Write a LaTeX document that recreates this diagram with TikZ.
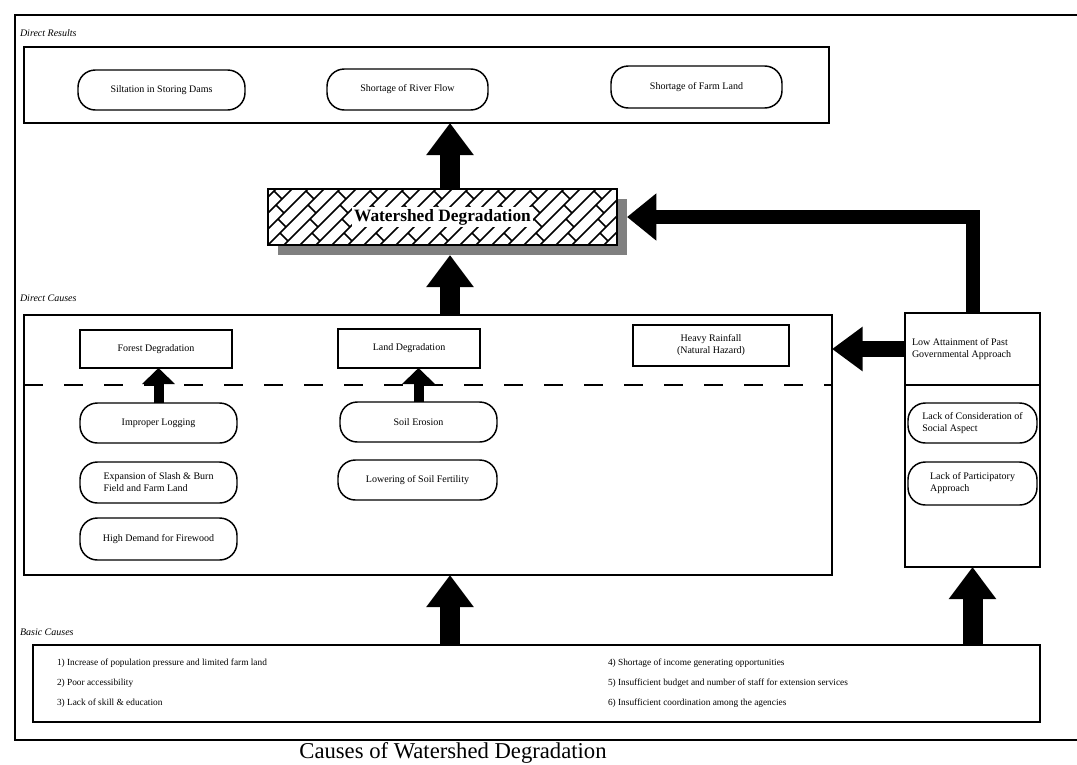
\documentclass[tikz,border=0pt]{standalone}
\usepackage{fontspec}
\setmainfont{Liberation Serif}
\usetikzlibrary{arrows.meta}

\tikzset{
  every node/.style={inner sep=0pt, outer sep=0pt},
  wh/.style 2 args={minimum width=#1*0.75pt, minimum height=#2*0.75pt},
  outerframe/.style={line width=1.5pt},
  frame/.style={draw, line width=1.1pt},
  rbox/.style={draw, line width=1.1pt, fill=white, align=center, font=\fontsize{7.5}{9}\selectfont},
  pill/.style={draw, rounded corners=13pt, line width=1.1pt, fill=white, align=left, font=\fontsize{7.5}{9}\selectfont},
  grouplabel/.style={anchor=west, font=\itshape\fontsize{7.5}{9}\selectfont},
  causeline/.style={anchor=west, font=\fontsize{7}{8.5}\selectfont},
  hatch/.style={line width=1.1pt},
  sepline/.style={line width=0.9pt, dash pattern=on 14pt off 16pt},
  bigarrow/.style={line width=15pt, -{Triangle[length=24pt,width=34pt]}},
  sidearrow/.style={line width=10.5pt, line join=miter, -{Triangle[length=22pt,width=34pt]}},
  leftarrow/.style={line width=12pt, -{Triangle[length=23pt,width=32pt]}},
  smallarrow/.style={line width=7.5pt, -{Triangle[length=12pt,width=24pt]}},
}

\begin{document}
\begin{tikzpicture}[x=0.75pt,y=-0.75pt]
\useasboundingbox (0,0) rectangle (1077,764);

% outer frame (open to the right)
\draw[outerframe] (1077,15) -- (15,15) -- (15,740) -- (1077,740);

% ---- direct results ----
\node[grouplabel] (lblres) at (20,33) {Direct Results};
\node[frame, wh={805}{76}] (res) at (426.5,85) {};
\node[pill, wh={167}{40}] (r1) at (161.5,90) {Siltation in Storing Dams};
\node[pill, wh={161}{41}] (r2) at (407.5,89.5) {Shortage of River Flow};
\node[pill, wh={171}{42}] (r3) at (696.5,87) {Shortage of Farm Land};

% ---- watershed degradation ----
\node[fill=black!50, wh={349}{56}] (wdshadow) at (452.5,227) {};
\node[draw, fill=white, line width=1pt, wh={349}{56}] (wd) at (442.5,217) {};
\begin{scope}
  \clip (268,189) rectangle (617,245);
  \foreach \c in {204,236,...,620} {
    \draw[hatch] (\c,245) -- (\c+56,189);
    \draw[hatch] (\c+12,233) -- (\c+20,241);
    \draw[hatch] (\c+40,205) -- (\c+48,213);
  }
  \foreach \c in {220,252,...,636} {
    \draw[hatch] (\c,245) -- (\c+56,189);
    \draw[hatch] (\c+26,219) -- (\c+34,227);
    \draw[hatch] (\c+54,191) -- (\c+62,199);
  }
\end{scope}
\draw[line width=1pt] (wd.south west) rectangle (wd.north east);
\node[font=\bfseries\fontsize{13}{15}\selectfont, fill=white, inner sep=1.5pt] (wdtext) at (wd) {Watershed Degradation};

% ---- direct causes ----
\node[grouplabel] (lblcause) at (20,298) {Direct Causes};
\node[frame, wh={808}{260}] (dc) at (428,445) {};
\coordinate (sepy) at (0,385);
\draw[sepline] (dc.west |- sepy) -- (dc.east |- sepy);
\node[rbox, wh={152}{38}] (fd) at (156,349) {Forest Degradation};
\node[rbox, wh={142}{39}] (ld) at (409,348.5) {Land Degradation};
\node[rbox, wh={156}{41}] (hr) at (711,345.5) {Heavy Rainfall\\(Natural Hazard)};
\node[pill, wh={157}{40}] (il) at (158.5,423) {Improper Logging};
\node[pill, wh={157}{41}] (ex) at (158.5,482.5) {Expansion of Slash \& Burn\\Field and Farm Land};
\node[pill, wh={157}{42}] (hd) at (158.5,539) {High Demand for Firewood};
\node[pill, wh={157}{40}] (se) at (418.5,422) {Soil Erosion};
\node[pill, wh={159}{40}] (lf) at (417.5,480) {Lowering of Soil Fertility};

% ---- governmental approach ----
\node[frame, wh={135}{72}] (attain) at (972.5,349) {};
\node[anchor=west, align=left, font=\fontsize{7.5}{9}\selectfont] (attaintext) at (912,349) {Low Attainment of Past\\Governmental Approach};
\node[frame, wh={135}{182}] (rlow) at (972.5,476) {};
\node[pill, wh={129}{40}] (lc) at (972.5,423) {Lack of Consideration of\\Social Aspect};
\node[pill, wh={129}{43}] (lp) at (972.5,483.5) {Lack of Participatory\\Approach};

% ---- basic causes ----
\node[grouplabel] (lblbasic) at (20,632) {Basic Causes};
\node[frame, wh={1007}{77}] (bc) at (536.5,683.5) {};
\node[causeline] (b1) at (57,663) {1) Increase of population pressure and limited farm land};
\node[causeline] (b2) at (57,683) {2) Poor accessibility};
\node[causeline] (b3) at (57,703) {3) Lack of skill \& education};
\node[causeline] (b4) at (608,663) {4) Shortage of income generating opportunities};
\node[causeline] (b5) at (608,683) {5) Insufficient budget and number of staff for extension services};
\node[causeline] (b6) at (608,703) {6) Insufficient coordination among the agencies};

% ---- title ----
\node[font=\fontsize{17}{20}\selectfont] (title) at (453,753) {Causes of Watershed Degradation};

% ---- arrows ----
\coordinate (axis) at (450,0);
\draw[bigarrow] (wd.north -| axis) -- (res.south -| axis);
\draw[bigarrow] (dc.north -| axis) -- (wdshadow.south -| axis);
\draw[bigarrow] (bc.north -| axis) -- (dc.south -| axis);
\draw[bigarrow] (bc.north -| rlow) -- (rlow.south);
\draw[sidearrow] (attain.north) |- (wdshadow.east |- wd.east);
\draw[leftarrow] (attain.west) -- (attain.west -| dc.east);
\draw[smallarrow] (il.north) -- (il.north |- fd.south);
\draw[smallarrow] (se.north) -- (se.north |- ld.south);
\end{tikzpicture}
\end{document}
